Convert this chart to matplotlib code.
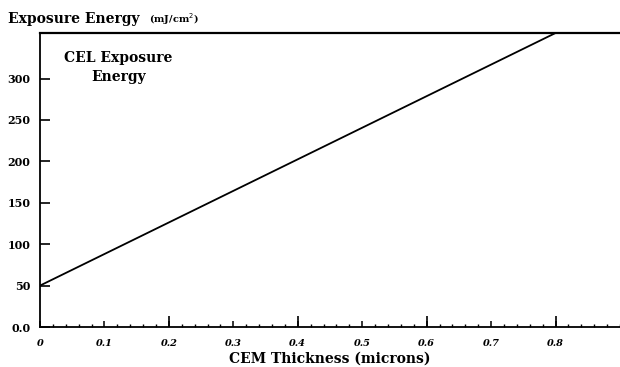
import numpy as np
import matplotlib.pyplot as plt
from matplotlib.ticker import MultipleLocator

# data
thickness = [0.0, 0.8]        # microns
energy = [50, 355]            # mJ/cm2
y_ticks = [0, 50, 100, 150, 200, 250, 300]
y_labels = ['0.0', '50', '100', '150', '200', '250', '300']
x_ticks = [0, 0.1, 0.2, 0.3, 0.4, 0.5, 0.6, 0.7, 0.8]
x_labels = ['0', '0.1', '0.2', '0.3', '0.4', '0.5', '0.6', '0.7', '0.8']

plt.rcParams['font.family'] = ['DejaVu Serif']

fig = plt.figure(figsize=(6.2, 3.67), dpi=100)
ax = fig.add_axes([40/620, 40/367, 580/620, 294/367])

ax.plot(thickness, energy, color='black', linewidth=1.3)

ax.set_xlim(0, 0.9)
ax.set_ylim(0, 355)

ax.set_xticks(x_ticks)
ax.set_xticklabels(x_labels, fontsize=7, fontweight='bold', fontstyle='italic')
ax.set_yticks(y_ticks)
ax.set_yticklabels(y_labels, fontsize=8, fontweight='bold')
ax.xaxis.set_minor_locator(MultipleLocator(0.02))

ax.tick_params(axis='x', which='major', direction='in', length=4.5, width=1.1, pad=9)
ax.tick_params(axis='x', which='minor', direction='in', length=2.5, width=1)
ax.tick_params(axis='y', which='major', direction='in', length=7, width=1.2, pad=7)
ax.tick_params(top=False, right=False)

# longer ticks every 0.2
sec = ax.secondary_xaxis('bottom')
sec.set_xticks([0.2, 0.4, 0.6, 0.8])
sec.set_xticklabels([])
sec.tick_params(direction='in', length=8, width=1.2)
sec.spines['bottom'].set_visible(False)

ax.spines['right'].set_visible(False)
ax.spines['top'].set_linewidth(1.6)
ax.spines['left'].set_linewidth(1.3)
ax.spines['bottom'].set_linewidth(1.3)

ax.set_xlabel('CEM Thickness (microns)', fontsize=10, fontweight='bold', labelpad=2)

fig.text(0.013, 0.948, 'Exposure Energy', fontsize=10, fontweight='bold', va='center')
fig.text(0.24, 0.948, '(mJ/cm$^2$)', fontsize=7, fontweight='bold', va='center')

ax.text(0.122, 333, 'CEL Exposure\nEnergy', fontsize=10, fontweight='bold',
        ha='center', va='top', linespacing=1.45)

fig.savefig('out.png', dpi=100)
